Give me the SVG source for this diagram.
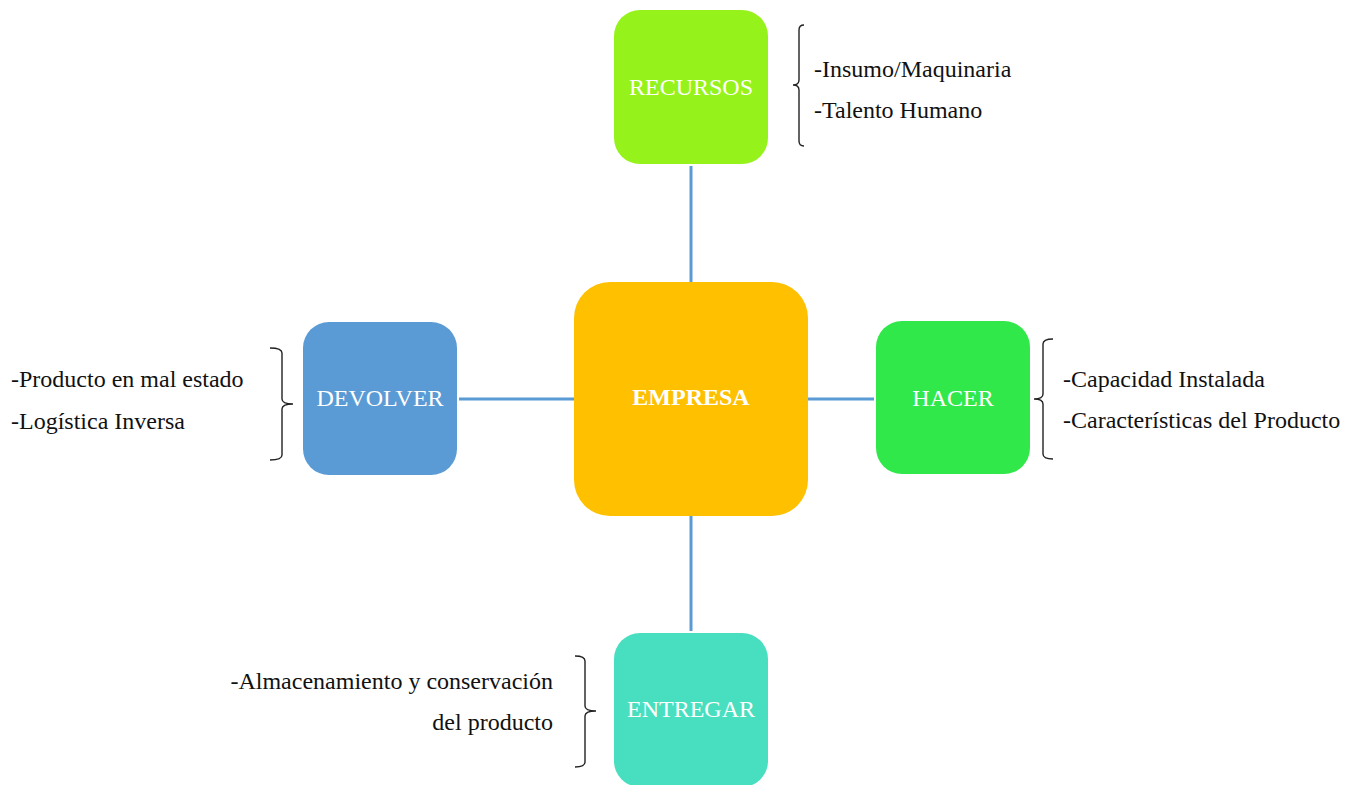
<svg xmlns="http://www.w3.org/2000/svg" width="1358" height="785" viewBox="0 0 1358 785">
<style>
.lbl{font-family:"Liberation Serif","Times New Roman",serif;font-size:24px;fill:#fff;text-anchor:middle}
.txt{font-family:"Liberation Serif","Times New Roman",serif;font-size:24px;fill:#111}
.br{fill:none;stroke:#222;stroke-width:1.4}
.con{stroke:#5B9BD5;stroke-width:3;fill:none}
</style>
<rect width="1358" height="785" fill="#fff"/>
<g id="connectors">
<line class="con" x1="691" y1="166" x2="691" y2="282"/>
<line class="con" x1="691" y1="516" x2="691" y2="631"/>
<line class="con" x1="459" y1="399" x2="574" y2="399"/>
<line class="con" x1="808" y1="399" x2="874" y2="399"/>
</g>
<g id="empresa">
<rect x="574" y="282" width="234" height="234" rx="36" fill="#FFC000"/>
<text class="lbl" x="691" y="405" font-weight="bold">EMPRESA</text>
</g>
<g id="recursos">
<rect x="614" y="10" width="154" height="154" rx="26" fill="#95F31B"/>
<text class="lbl" x="691" y="95">RECURSOS</text>
<path class="br" d="M804,25 Q799,25 799,30 L799,80 Q799,85 793,85 Q799,85 799,90 L799,141 Q799,146 804,146"/>
<text class="txt" x="814" y="77">-Insumo/Maquinaria</text>
<text class="txt" x="814" y="118">-Talento Humano</text>
</g>
<g id="devolver">
<rect x="303" y="322" width="154" height="153" rx="26" fill="#5B9BD5"/>
<text class="lbl" x="380" y="406">DEVOLVER</text>
<path class="br" d="M270,348 Q282,348 282,353 L282,399 Q282,404 293,404 Q282,404 282,409 L282,455 Q282,460 270,460"/>
<text class="txt" x="11" y="387">-Producto en mal estado</text>
<text class="txt" x="11" y="429">-Logística Inversa</text>
</g>
<g id="hacer">
<rect x="876" y="321" width="154" height="153" rx="26" fill="#31E84A"/>
<text class="lbl" x="953" y="406">HACER</text>
<path class="br" d="M1053,339 Q1043,339 1043,344 L1043,394 Q1043,399 1034,399 Q1043,399 1043,404 L1043,454 Q1043,459 1053,459"/>
<text class="txt" x="1063" y="387">-Capacidad Instalada</text>
<text class="txt" x="1063" y="428">-Características del Producto</text>
</g>
<g id="entregar">
<rect x="614" y="633" width="154" height="154" rx="26" fill="#48DFC0"/>
<text class="lbl" x="691" y="717">ENTREGAR</text>
<path class="br" d="M575,656 Q585,656 585,661 L585,706 Q585,711 596,711 Q585,711 585,716 L585,762 Q585,767 575,767"/>
<text class="txt" x="553" y="689" text-anchor="end">-Almacenamiento y conservación</text>
<text class="txt" x="553" y="730" text-anchor="end">del producto</text>
</g>
</svg>
